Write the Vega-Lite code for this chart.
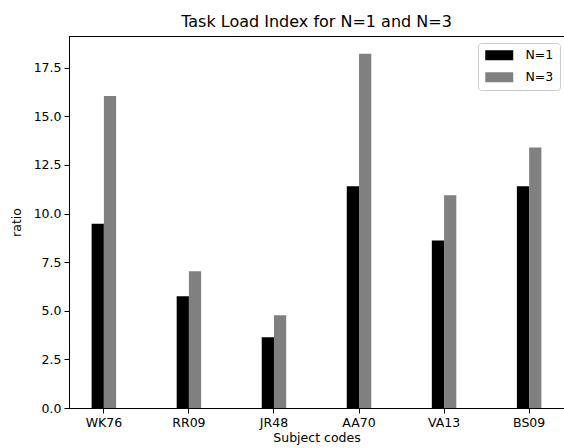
{
  "$schema": "https://vega.github.io/schema/vega-lite/v6.json",
  "autosize": {"type": "none"},
  "width": 495,
  "height": 372,
  "padding": {"left": 69, "top": 36, "right": 0, "bottom": 40},
  "background": "white",
  "title": {"text": "Task Load Index for N=1 and N=3", "font": "DejaVu Sans", "fontSize": 16, "fontWeight": "normal", "color": "black", "offset": 6},
  "config": {
    "view": {"stroke": "black", "strokeWidth": 1},
    "axis": {"labelFont": "DejaVu Sans", "labelFontSize": 12.5, "labelColor": "black", "titleFont": "DejaVu Sans", "titleFontSize": 12.5, "titleFontWeight": "normal", "titleColor": "black", "domainColor": "black", "tickColor": "black", "tickSize": 5, "grid": false}
  },
  "data": {"values": [
    {"subject": "WK76", "N": "N=1", "ratio": 9.48},
    {"subject": "WK76", "N": "N=3", "ratio": 16.04},
    {"subject": "RR09", "N": "N=1", "ratio": 5.75},
    {"subject": "RR09", "N": "N=3", "ratio": 7.03},
    {"subject": "JR48", "N": "N=1", "ratio": 3.64},
    {"subject": "JR48", "N": "N=3", "ratio": 4.77},
    {"subject": "AA70", "N": "N=1", "ratio": 11.40},
    {"subject": "AA70", "N": "N=3", "ratio": 18.22},
    {"subject": "VA13", "N": "N=1", "ratio": 8.62},
    {"subject": "VA13", "N": "N=3", "ratio": 10.94},
    {"subject": "BS09", "N": "N=1", "ratio": 11.40},
    {"subject": "BS09", "N": "N=3", "ratio": 13.39}
  ]},
  "mark": {"type": "bar"},
  "encoding": {
    "x": {"field": "subject", "type": "nominal", "sort": null, "title": "Subject codes",
      "scale": {"paddingInner": 0.712, "paddingOuter": 0.266},
      "axis": {"labelAngle": 0, "labelPadding": 3, "titlePadding": 3}},
    "xOffset": {"field": "N", "type": "nominal", "scale": {"paddingInner": 0, "paddingOuter": 0}},
    "y": {"field": "ratio", "type": "quantitative", "title": "ratio",
      "scale": {"domain": [0, 19.13], "nice": false, "zero": true},
      "axis": {"values": [0, 2.5, 5, 7.5, 10, 12.5, 15, 17.5], "format": ".1f", "labelPadding": 3, "titlePadding": 10}},
    "color": {"field": "N", "type": "nominal",
      "scale": {"domain": ["N=1", "N=3"], "range": ["black", "#808080"]},
      "legend": {"title": null, "orient": "none", "legendX": 409, "legendY": 7,
        "symbolType": "M-2.8,-1H2.8V1H-2.8Z", "symbolSize": 100, "symbolStrokeWidth": 0, "symbolOffset": 9,
        "labelFont": "DejaVu Sans", "labelFontSize": 12.5, "labelColor": "black",
        "rowPadding": 9, "padding": 6, "strokeColor": "#cccccc", "fillColor": "white", "cornerRadius": 3, "labelOffset": 20}}
  }
}
